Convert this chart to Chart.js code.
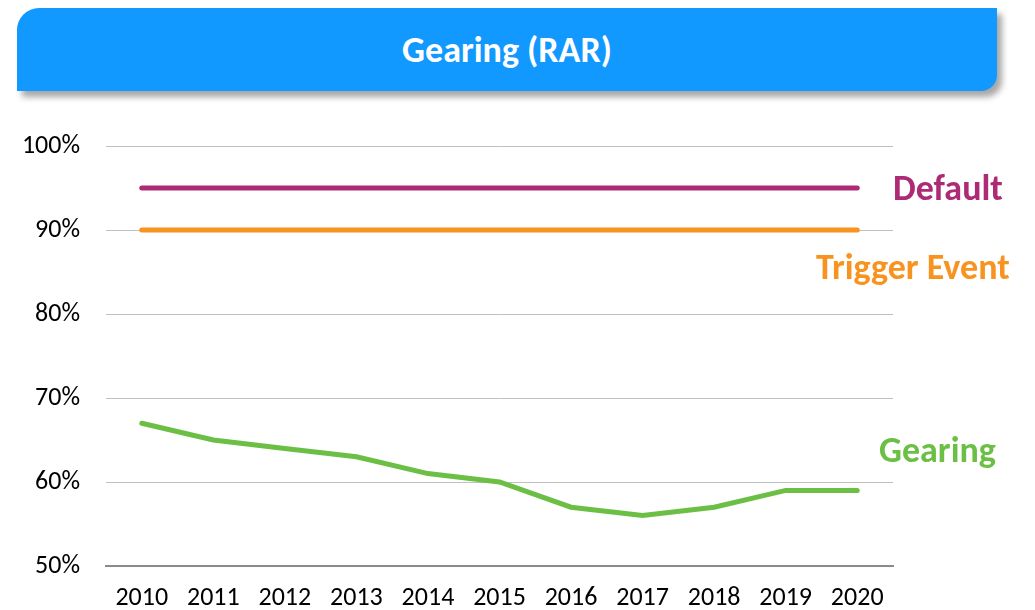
<!DOCTYPE html>
<html>
<head>
<meta charset="utf-8">
<script src="https://cdn.jsdelivr.net/npm/chart.js@4"></script>
<style>
    html, body { margin: 0; padding: 0; background: #fff; }
    body { width: 1035px; height: 610px; position: relative; overflow: hidden; font-family: Carlito, Lato, sans-serif; }
    #banner {
        position: absolute; left: 17px; top: 8px; width: 980px; height: 83px;
        background: #1199ff; border-radius: 22px 0 16px 0;
        box-shadow: 5px 6px 6px rgba(0, 0, 0, 0.35);
        color: #fff; font-weight: bold; font-size: 36px;
        display: flex; align-items: center; justify-content: center;
    }
    .tag { position: absolute; font-weight: bold; font-size: 36px; line-height: 1; white-space: nowrap; }
    #chartBox { position: absolute; left: 0; top: 0; width: 1035px; height: 610px; }
</style>
</head>
<body>
<div id="banner">Gearing (RAR)</div>
<div id="chartBox"><canvas id="gearingChart"></canvas></div>
<div class="tag" style="left:893px; top:170px; color:#ad2a75;">Default</div>
<div class="tag" style="left:816px; top:249px; color:#f7931e;">Trigger Event</div>
<div class="tag" style="left:879px; top:432px; color:#6cbf45;">Gearing</div>
<script>
const years = ['2010', '2011', '2012', '2013', '2014', '2015', '2016', '2017', '2018', '2019', '2020'];
const defaultLevel = [95, 95, 95, 95, 95, 95, 95, 95, 95, 95, 95];
const triggerLevel = [90, 90, 90, 90, 90, 90, 90, 90, 90, 90, 90];
const gearing = [67, 65, 64, 63, 61, 60, 57, 56, 57, 59, 59];

function lineSet(label, data, color) {
    return {
        label: label,
        data: data,
        borderColor: color,
        backgroundColor: color,
        borderWidth: 5,
        borderCapStyle: 'round',
        pointRadius: 0,
        tension: 0
    };
}

const ctx = document.getElementById('gearingChart').getContext('2d');
new Chart(ctx, {
    type: 'line',
    data: {
        labels: years,
        datasets: [
            lineSet('Default', defaultLevel, '#ad2a75'),
            lineSet('Trigger Event', triggerLevel, '#f7931e'),
            lineSet('Gearing', gearing, '#6cbf45')
        ]
    },
    options: {
        responsive: true,
        maintainAspectRatio: false,
        animation: false,
        layout: { padding: { top: 146, right: 142, bottom: 0, left: 0 } },
        plugins: { legend: { display: false }, tooltip: { enabled: false } },
        scales: {
            x: {
                offset: true,
                afterFit: function(axis) { axis.height = 44; },
                grid: { display: false },
                border: { display: true, color: '#8a8a8a', width: 2 },
                ticks: { color: '#000', padding: 9, font: { family: 'Carlito, Lato', size: 26 } }
            },
            y: {
                min: 50,
                max: 100,
                afterFit: function(axis) { axis.width = 106; },
                grid: { color: '#c0c0c0', lineWidth: 1, drawTicks: false },
                border: { display: false },
                ticks: {
                    stepSize: 10,
                    color: '#000',
                    padding: 26,
                    font: { family: 'Carlito, Lato', size: 26 },
                    callback: function(v) { return v + '%'; }
                }
            }
        }
    }
});
</script>
</body>
</html>
